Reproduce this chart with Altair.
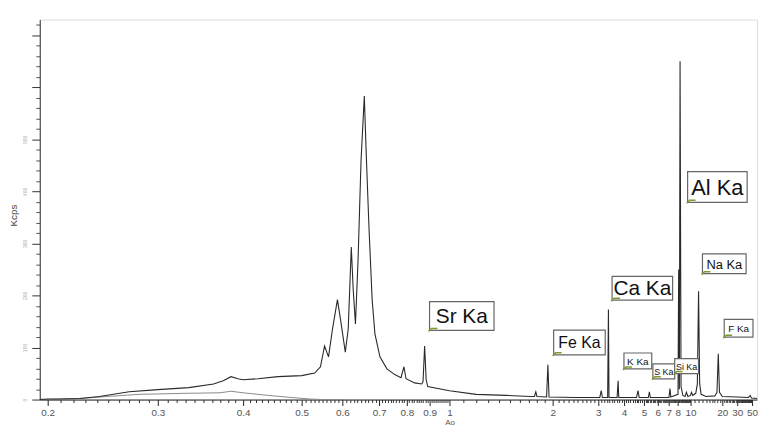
import altair as alt
import pandas as pd
import numpy as np

# ---------------- data ----------------
# upper (measured) spectrum: wavelength in Angstrom, intensity in Kcps
wl_main = [0.194, 0.200, 0.209, 0.225, 0.242, 0.270, 0.300, 0.333, 0.362, 0.374,
           0.384, 0.393, 0.400, 0.423, 0.457, 0.500, 0.530, 0.544, 0.554, 0.564,
           0.574, 0.587, 0.597, 0.6075, 0.615, 0.623, 0.628, 0.634, 0.641, 0.649,
           0.658, 0.663, 0.671, 0.680, 0.688, 0.703, 0.727, 0.755, 0.778, 0.789,
           0.797, 0.833, 0.864, 0.870, 0.877, 0.884, 0.891, 1.000, 1.197, 1.462,
           1.727, 1.77, 1.786, 1.80, 1.92, 1.937, 1.952, 2.45, 3.05, 3.10,
           3.14, 3.33, 3.359, 3.38, 3.70, 3.742, 3.77, 4.60, 4.68, 4.74,
           5.30, 5.37, 5.44, 7.02, 7.13, 7.22, 8.05, 8.14, 8.24, 8.34,
           8.48, 8.75, 9.1, 9.3, 9.55, 10.0, 10.2, 10.5, 11.2, 11.6,
           11.91, 12.2, 12.6, 14.0, 17.0, 17.8, 18.32, 18.8, 20.0, 30.0,
           44.0, 46.7, 49.0, 59.0]
kcps_main = [0, 1, 1, 2, 6, 15, 19, 23, 30, 36,
             44, 40, 38, 40, 44, 46, 51, 63, 103, 82,
             135, 192, 145, 91, 135, 293, 211, 145, 269, 459,
             583, 478, 331, 192, 126, 82, 59, 48, 42, 63,
             40, 32, 30, 35, 103, 38, 25, 17, 10, 8,
             6, 6, 15, 6, 5, 67, 5, 4, 4, 17,
             4, 4, 173, 4, 4, 36, 4, 4, 17, 4,
             4, 15, 4, 4, 21, 5, 10, 250, 20, 650,
             25, 8, 6, 14, 6, 8, 14, 8, 12, 30,
             208, 30, 10, 6, 7, 14, 88, 14, 6, 5,
             4, 8, 3, 2]

# lower (background) trace
wl_bg = [0.194, 0.200, 0.225, 0.250, 0.280, 0.330, 0.370, 0.384, 0.400, 0.440,
         0.480, 0.520, 0.550, 0.600]
kcps_bg = [0, 0, 2, 6, 10, 12, 13, 16, 13, 8,
           4, 1, 0, 0]

# line annotations (anchor = lower-left corner of the label box)
label_text = ["Sr Ka", "Fe Ka", "Ca Ka", "K Ka", "S Ka", "Si Ka", "Al Ka", "Na Ka", "F Ka"]
label_wl = [0.895, 2.0, 3.46, 3.95, 5.55, 7.54, 9.34, 12.69, 20.5]
label_kcps = [131, 84, 189, 57, 38, 48, 377, 240, 118]

x_tick_values = [0.2, 0.3, 0.4, 0.5, 0.6, 0.7, 0.8, 0.9, 1, 2, 3, 4, 5, 6, 7, 8, 10, 20, 30, 50]
y_tick_values = [0, 100, 200, 300, 400, 500, 600, 700]

# ---------------- styles / geometry ----------------
# the instrument axis is not a pure log axis: piecewise log scale through the tick positions
X_DOMAIN = [0.194, 0.2, 0.3, 0.4, 0.5, 0.6, 0.7, 0.8, 0.9, 1, 2, 3, 4, 5, 6, 7, 8, 10, 20, 30, 50, 59]
X_PIX = [0, 8, 119, 205, 264, 305, 342, 370, 393, 413, 517, 563, 589, 609, 623, 634, 643, 656, 688, 703, 718, 723]
W, H = 723, 383
LABEL_STYLE = {  # box width, box height, font size
    "Sr Ka": (65, 29, 21), "Fe Ka": (52, 25, 16), "Ca Ka": (61, 24, 21),
    "K Ka": (28, 16, 10), "S Ka": (22, 15, 9), "Si Ka": (24, 15, 9),
    "Al Ka": (60, 31, 22), "Na Ka": (44, 20, 13), "F Ka": (29, 18, 10),
}
FONT = "Liberation Sans"

minor_x = [round(v, 2) for v in np.arange(0.21, 1.0, 0.01)] + \
          [round(v, 1) for v in np.arange(1.1, 10.0, 0.1)] + list(range(11, 51))
minor_x = [v for v in minor_x if v not in x_tick_values]
minor_y = [v for v in range(0, 740, 20) if v not in y_tick_values]

xs = alt.Scale(type="log", domain=X_DOMAIN, range=X_PIX, nice=False)
ys = alt.Scale(domain=[0, 730], nice=False)

main_df = pd.DataFrame({"wl": wl_main, "kcps": kcps_main})
bg_df = pd.DataFrame({"wl": wl_bg, "kcps": kcps_bg})
lab_df = pd.DataFrame({"text": label_text, "wl": label_wl, "kcps": label_kcps})

x_major = alt.Axis(values=x_tick_values, labelExpr="format(datum.value, '~g')", title="Ao",
                   orient="bottom", tickSize=6, tickColor="#222", domainColor="#222",
                   labelFontSize=10, labelColor="#555", labelFont=FONT, labelPadding=2,
                   labelOverlap=False, labelFlush=False, grid=False,
                   titleFontSize=8, titleFontWeight="normal", titleColor="#555", titleFont=FONT,
                   titleX=413, titleY=19)
y_major = alt.Axis(values=y_tick_values, labelExpr="datum.value <= 500 ? datum.label : ''",
                   title="Kcps", orient="left", tickSize=8, tickColor="#333", domainColor="#333",
                   labelFontSize=5, labelColor="#aaa", labelAngle=270, labelPadding=4,
                   labelOverlap=False, labelFlush=False, grid=False,
                   titleFontSize=10, titleFontWeight="normal", titleColor="#444", titleFont=FONT,
                   titleBaseline="top", titleX=-31, titleY=197)
x_minor = alt.Axis(values=minor_x, labels=False, title=None, orient="bottom", tickSize=3,
                   tickColor="#333", domain=False, grid=False)
y_minor = alt.Axis(values=minor_y, labels=False, title=None, orient="left", tickSize=4,
                   tickColor="#555", domain=False, grid=False)

main_line = alt.Chart(main_df).mark_line(color="#2a2a2a", strokeWidth=1.1).encode(
    x=alt.X("wl:Q", scale=xs, axis=x_major),
    y=alt.Y("kcps:Q", scale=ys, axis=y_major),
    order="wl:Q",
)
bg_line = alt.Chart(bg_df).mark_line(color="#8a8a8a", strokeWidth=1).encode(
    x=alt.X("wl:Q", scale=xs, axis=x_minor),
    y=alt.Y("kcps:Q", scale=ys, axis=y_minor),
    order="wl:Q",
)

layers = [bg_line, main_line]

for t in label_text:
    w, h, fs = LABEL_STYLE[t]
    sub = lab_df[lab_df["text"] == t]
    box = alt.Chart(sub).mark_rect(width=w, height=h, xOffset=w / 2 + 1, yOffset=-h / 2 - 1,
                                   fill="white", stroke="#666", strokeWidth=1.2).encode(
        x=alt.X("wl:Q", scale=xs, axis=None),
        y=alt.Y("kcps:Q", scale=ys, axis=None),
    )
    txt = alt.Chart(sub).mark_text(align="center", baseline="middle", dx=w / 2 + 1, dy=-h / 2,
                                   fontSize=fs, font=FONT, color="#111").encode(
        x=alt.X("wl:Q", scale=xs, axis=None),
        y=alt.Y("kcps:Q", scale=ys, axis=None),
        text="text:N",
    )
    layers += [box, txt]

marker = alt.Chart(lab_df).mark_point(shape="M0,0L3,-3L9,-3", size=4, filled=False,
                                      stroke="#7d9b2e", strokeWidth=1.5, opacity=1).encode(
    x=alt.X("wl:Q", scale=xs, axis=None),
    y=alt.Y("kcps:Q", scale=ys, axis=None),
)
layers.append(marker)

chart = alt.layer(*layers).resolve_axis(x="independent", y="independent").properties(
    width=W, height=H,
    padding={"left": 32, "top": 10, "right": 4, "bottom": 28},
    autosize=alt.AutoSizeParams(type="none"),
).configure_view(stroke="#555", strokeWidth=1).configure(background="white")

chart.save("out.html", embed_options={"renderer": "svg", "actions": False})
